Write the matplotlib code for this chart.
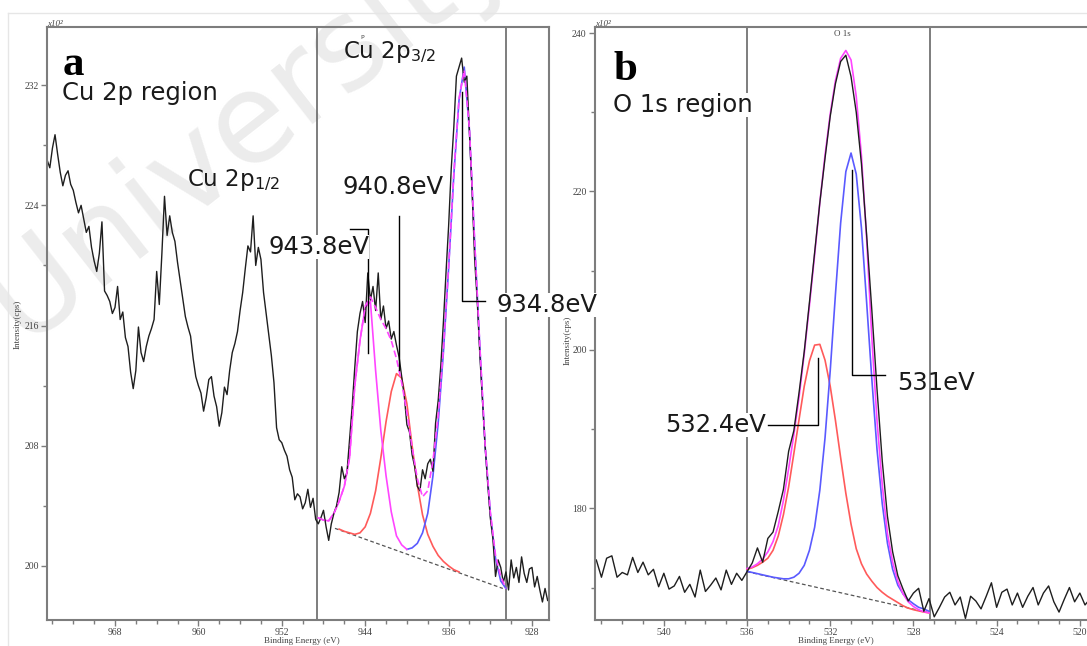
import numpy as np
import matplotlib
matplotlib.use("Agg")
import matplotlib.pyplot as plt
from matplotlib.ticker import MultipleLocator
from matplotlib.lines import Line2D

W, H = 1087, 646

# ---------------- data : Cu 2p (panel a) ----------------
# raw spectrum, 0.25 eV steps from 974.5 to 926.5 eV
cu_counts = [
    227.0, 226.5, 227.8, 228.7, 227.4, 226.2, 225.3, 226.0,
    226.3, 225.4, 225.0, 224.2, 223.5, 224.0, 223.1, 222.2,
    222.6, 221.2, 220.3, 219.6, 220.8, 222.9, 218.3, 218.0,
    217.6, 216.8, 217.2, 218.6, 216.4, 216.9, 215.2, 214.6,
    212.9, 211.8, 213.0, 215.9, 214.2, 213.6, 214.6, 215.3,
    215.8, 216.4, 219.6, 217.4, 220.8, 224.6, 222.0, 223.3,
    222.2, 221.6, 220.2, 219.0, 217.8, 216.6, 215.9, 215.3,
    213.8, 212.6, 212.0, 211.5, 210.3, 211.2, 212.4, 212.6,
    211.3, 210.6, 209.3, 210.2, 211.9, 211.4, 213.0, 214.2,
    214.8, 215.6, 217.0, 218.2, 219.8, 221.3, 220.9, 223.3,
    220.0, 221.2, 220.4, 218.2, 216.8, 215.4, 214.0, 212.2,
    209.2, 208.4, 208.2, 207.7, 207.3, 206.4, 205.9, 204.4,
    204.8, 204.6, 203.8, 204.2, 205.1, 203.9, 204.5, 203.1,
    202.8, 203.2, 203.7, 202.6, 201.7, 202.8, 203.5, 204.0,
    204.9, 206.6, 205.8, 206.2, 208.4, 210.6, 213.2, 215.6,
    216.8, 217.6, 216.2, 219.5, 217.7, 218.6, 217.0, 219.5,
    216.4, 217.3, 215.8, 216.3, 215.1, 215.6, 214.7, 213.9,
    212.6, 211.3, 209.4, 208.9, 207.4, 206.6, 205.3, 205.0,
    206.4, 205.8, 206.8, 207.1, 206.3, 209.5, 211.0, 213.3,
    216.2, 219.5, 222.6, 226.4, 229.2, 232.6, 233.2, 233.8,
    232.2, 232.6, 228.8, 225.0, 220.4, 217.6, 214.0, 211.0,
    208.0, 205.5, 203.2, 201.8, 199.3, 200.4, 199.9, 198.9,
    199.6, 198.4, 200.4, 199.2, 199.9, 198.9, 200.6, 199.5,
    198.9, 199.8, 199.9, 198.6, 199.3, 198.4, 197.6, 198.5,
    197.7,
]
cu_energy = np.linspace(974.5, 926.5, len(cu_counts))

# fitted components (0.5 eV steps)
cu_env = [203.2, 203.05, 203.0, 203.5, 204.3, 205.3, 207.2, 212.0, 215.0, 217.3,
          217.9, 217.2, 216.4, 215.8, 215.0, 213.8, 212.2, 210.2, 207.9, 205.8,
          204.6, 205.0, 207.0, 210.0, 214.4, 219.9, 226.1, 231.1, 233.0, 229.1,
          221.6, 214.6, 208.1, 203.6, 200.7, 199.3, 198.5]
cu_env_e = np.linspace(948.5, 930.5, len(cu_env))

cu_sat1 = [203.2, 203.05, 203.0, 203.5, 204.3, 205.3, 207.2, 212.0, 215.0, 217.2,
           217.6, 213.0, 209.0, 206.0, 203.6, 202.0, 201.4, 201.1]
cu_sat1_e = np.linspace(948.5, 940.0, len(cu_sat1))

cu_sat2 = [202.45, 202.3, 202.2, 202.1, 202.2, 202.6, 203.5, 205.0, 207.2, 209.6,
           211.6, 212.8, 212.5, 210.8, 208.0, 205.4, 203.4, 202.1, 201.3, 200.7,
           200.3, 200.0, 199.75, 199.6]
cu_sat2_e = np.linspace(946.5, 935.0, len(cu_sat2))

cu_main = [201.1, 201.2, 201.5, 202.2, 203.5, 206.0, 209.5, 214.2, 219.8, 226.0,
           231.0, 233.2, 229.0, 221.5, 214.5, 208.0, 203.5, 200.5, 199.0, 198.5]
cu_main_e = np.linspace(940.0, 930.5, len(cu_main))

cu_bg_e = [946.9, 930.8]
cu_bg = [202.5, 198.5]

# ---------------- data : O 1s (panel b) ----------------
o_counts = [
    172.8, 173.5, 171.3, 173.7, 174.0, 171.3, 171.9, 171.6,
    173.8, 171.9, 173.2, 171.6, 172.3, 170.1, 171.8, 169.8,
    170.2, 171.4, 169.4, 170.4, 168.8, 172.2, 169.5, 170.3,
    171.2, 169.7, 172.2, 170.4, 171.8, 170.9, 172.0, 173.1,
    175.0, 173.2, 176.2, 177.0, 179.6, 182.4, 187.2, 189.8,
    194.6, 199.8, 206.0, 212.3, 218.6, 224.2, 229.5, 233.6,
    236.4, 237.2, 234.5, 230.0, 223.5, 214.5, 205.0, 195.0,
    186.0, 179.0, 174.5, 171.5, 169.8, 168.3, 169.3, 169.9,
    167.0, 168.6, 166.3, 167.5, 168.8, 169.4, 167.8, 168.8,
    166.1, 168.9, 168.3, 167.3, 168.9, 170.6, 167.5, 169.4,
    169.8, 167.8, 169.3, 167.5, 168.9, 170.0, 167.8, 169.3,
    170.2, 168.2, 166.9, 168.5, 170.0, 168.2, 169.3, 167.8,
    168.6,
]
o_energy = np.linspace(543.5, 519.5, len(o_counts))

# fitted components (0.25 eV steps, 536.0 -> 527.25 eV)
o_env = [172.4, 172.6, 173.0, 173.6, 174.5, 175.8, 177.8, 181.0, 185.0, 189.3,
         194.0, 199.5, 205.6, 212.0, 218.6, 224.6, 229.8, 234.0, 236.8, 237.8,
         236.6, 232.0, 224.5, 214.0, 201.5, 191.0, 183.0, 176.8, 173.2, 170.8,
         169.2, 168.2, 167.6, 167.2, 166.95, 166.8]
o_peak1 = [172.3, 172.5, 172.8, 173.2, 173.7, 174.7, 176.5, 179.2, 182.7, 186.9,
           191.2, 195.4, 198.6, 200.6, 200.7, 198.7, 195.4, 191.1, 186.4, 181.9,
           178.0, 174.9, 173.0, 171.7, 170.8, 170.0, 169.4, 168.9, 168.5, 168.1,
           167.7, 167.4, 167.2, 167.05, 166.9, 166.8]
o_peak2 = [172.05, 171.9, 171.75, 171.6, 171.45, 171.3, 171.2, 171.1, 171.1, 171.3,
           171.8, 172.8, 174.7, 177.6, 182.3, 188.9, 197.4, 207.0, 216.0, 222.5,
           224.85, 222.2, 215.4, 206.0, 196.3, 187.4, 180.6, 175.6, 172.3, 170.3,
           169.2, 168.45, 167.95, 167.5, 167.3, 167.0]
o_fit_e = np.linspace(536.0, 527.25, len(o_env))

o_bg_e = [536.0, 527.2]
o_bg = [172.0, 166.8]

# ---------------- figure ----------------
plt.rcParams['font.family'] = 'DejaVu Sans'
fig = plt.figure(figsize=(W / 100, H / 100), dpi=100)
fig.patch.set_facecolor('white')


def fx(px):
    return px / W


def fy(py):
    return 1 - py / H


# watermark
fig.text(fx(21), fy(344), 'University', rotation=38, rotation_mode='anchor',
         fontsize=90, color='#ececec', ha='left', va='baseline', zorder=-1)

# faint outer frame
fig.add_artist(Line2D([fx(8), fx(1087)], [fy(13), fy(13)], color='#e6e6e6', lw=1))
fig.add_artist(Line2D([fx(8), fx(8)], [fy(13), fy(646)], color='#e6e6e6', lw=1))

axL = fig.add_axes([fx(47), fy(620), (549 - 47) / W, (620 - 27) / H])
axR = fig.add_axes([fx(595), fy(620), (1100 - 595) / W, (620 - 27) / H])

SPINE = '#7d7d7d'
for ax in (axL, axR):
    ax.patch.set_alpha(0)
    for s in ax.spines.values():
        s.set_color(SPINE)
        s.set_linewidth(1.5)
    ax.tick_params(which='both', direction='out', color=SPINE, labelcolor='#444',
                   labelsize=7, labelfontfamily='Liberation Serif', pad=1.5)
    ax.tick_params(which='major', length=4.5, width=1)
    ax.tick_params(which='minor', length=3, width=1)

RED, BLUE, MAG, BLK = '#ff5a5a', '#5a5aff', '#ff45ff', '#1e1e1e'

# panel a
axL.set_xlim(974.52, 926.37)
axL.set_ylim(196.4, 235.87)
axL.xaxis.set_major_locator(MultipleLocator(8))
axL.xaxis.set_minor_locator(MultipleLocator(2))
axL.yaxis.set_major_locator(MultipleLocator(8))
axL.yaxis.set_minor_locator(MultipleLocator(4))
axL.axvline(948.6, color='#5a5a5a', lw=1.1)
axL.axvline(930.45, color='#5a5a5a', lw=1.1)
axL.plot(cu_bg_e, cu_bg, color='#555', lw=0.9, dashes=(3, 2))
axL.plot(cu_sat2_e, cu_sat2, color=RED, lw=1.2)
axL.plot(cu_main_e, cu_main, color=BLUE, lw=1.2)
axL.plot(cu_sat1_e, cu_sat1, color=MAG, lw=1.2)
axL.plot(cu_energy, cu_counts, color=BLK, lw=1.0)
axL.plot(cu_env_e, cu_env, color=MAG, lw=1.2, dashes=(4, 2))
# peak markers
axL.plot([945.45, 943.73, 943.73], [222.4, 222.4, 214.2], color='k', lw=1, zorder=5)
axL.plot([940.76, 940.76], [223.27, 213.07], color='k', lw=1)
axL.plot([934.71, 934.71, 932.5], [231.53, 217.6, 217.6], color='k', lw=1)

# panel b
axR.set_xlim(543.31, 519.03)
axR.set_ylim(165.9, 240.76)
axR.xaxis.set_major_locator(MultipleLocator(4))
axR.xaxis.set_minor_locator(MultipleLocator(1))
axR.yaxis.set_major_locator(MultipleLocator(20))
axR.yaxis.set_minor_locator(MultipleLocator(10))
axR.axvline(536.0, color='#5a5a5a', lw=1.1)
axR.axvline(527.2, color='#5a5a5a', lw=1.1)
axR.plot(o_bg_e, o_bg, color='#555', lw=0.9, dashes=(3, 2))
axR.plot(o_fit_e, o_peak1, color=RED, lw=1.2)
axR.plot(o_fit_e, o_peak2, color=BLUE, lw=1.2)
axR.plot(o_fit_e, o_env, color=MAG, lw=1.2)
axR.plot(o_energy, o_counts, color=BLK, lw=1.0)
axR.plot([534.99, 532.59, 532.59], [190.5, 190.5, 199.0], color='k', lw=1)
axR.plot([530.95, 530.95, 529.37], [222.7, 196.8, 196.8], color='k', lw=1)

# small axis texts
small = dict(family='Liberation Serif', color='#444', fontsize=6.5)
fig.text(fx(302), fy(643), 'Binding Energy (eV)', ha='center', va='baseline', **small)
fig.text(fx(836), fy(643), 'Binding Energy (eV)', ha='center', va='baseline', **small)
fig.text(fx(18), fy(324), 'Intensity(cps)', rotation=90, ha='center', va='center', **small)
fig.text(fx(568), fy(340), 'Intensity(cps)', rotation=90, ha='center', va='center', **small)
fig.text(fx(47), fy(26), 'x10²', ha='left', va='baseline', style='italic', **small)
fig.text(fx(595), fy(26), 'x10²', ha='left', va='baseline', style='italic', **small)
fig.text(fx(842), fy(36), 'O 1s', ha='center', va='baseline', **small)
fig.text(fx(362), fy(39), 'P', ha='center', va='baseline', fontsize=4.5, color='#444')

# panel letters and labels
fig.text(fx(63), fy(75), 'a', family='Liberation Serif', weight='bold', fontsize=31,
         ha='left', va='baseline')
fig.text(fx(613), fy(80), 'b', family='Liberation Serif', weight='bold', fontsize=31,
         ha='left', va='baseline')

wbox = dict(facecolor='white', edgecolor='none', pad=0.2)
lab = dict(fontsize=17.5, color='#1a1a1a', ha='left', va='baseline')
sub = dict(fontsize=16.5, color='#1a1a1a', ha='left', va='baseline')
fig.text(fx(62), fy(100), 'Cu 2p region', bbox=wbox, **lab)
fig.text(fx(613), fy(112), 'O 1s region', bbox=wbox, **lab)
fig.text(fx(187), fy(186), 'Cu 2p$_{1/2}$', **sub)
fig.text(fx(343), fy(58), 'Cu 2p$_{3/2}$', **sub)
fig.text(fx(343), fy(194), '940.8eV', **lab)
fig.text(fx(268), fy(254), '943.8eV', bbox=wbox, **lab)
fig.text(fx(497), fy(312), '934.8eV', bbox=wbox, **lab)
fig.text(fx(665), fy(432), '532.4eV', bbox=wbox, **lab)
fig.text(fx(897), fy(390), '531eV', **lab)

fig.savefig('out.png', dpi=100)
